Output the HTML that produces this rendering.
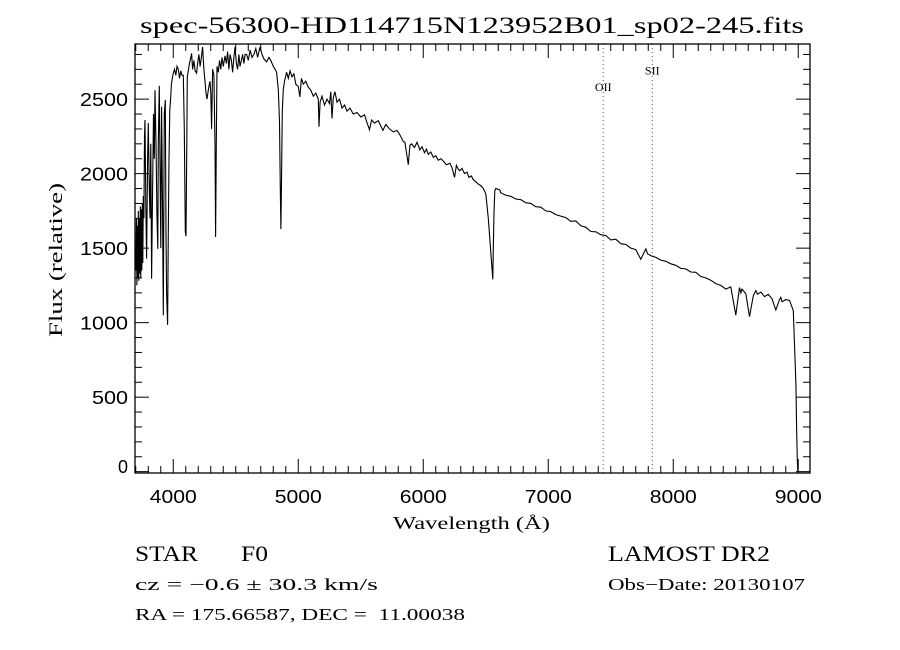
<!DOCTYPE html>
<html><head><meta charset="utf-8"><style>
body{margin:0;background:#fff;}
svg{display:block;}
.t{font-family:"Liberation Serif",serif;fill:#000;}
.s{font-family:"Liberation Sans",sans-serif;fill:#000;}
</style></head><body>
<svg id="chart" width="900" height="650" viewBox="0 0 900 650">
<rect width="900" height="650" fill="#fff"/>
<text class="t" x="472" y="33" font-size="23" text-anchor="middle" textLength="664" lengthAdjust="spacingAndGlyphs">spec-56300-HD114715N123952B01_sp02-245.fits</text>
<g id="ticks"></g>
<g id="lines"></g>
<polyline id="spec" fill="none" stroke="#000" stroke-width="1.1"/>
<rect x="135" y="44" width="675" height="429" fill="none" stroke="#000" stroke-width="1.3"/>
<text class="t" x="393" y="529" font-size="18" textLength="157" lengthAdjust="spacingAndGlyphs">Wavelength (Å)</text>
<text class="t" x="0" y="0" font-size="19" text-anchor="middle" textLength="154" lengthAdjust="spacingAndGlyphs" transform="translate(62,260) rotate(-90)">Flux (relative)</text>
<text class="t" x="135" y="561" font-size="22"><tspan textLength="63" lengthAdjust="spacingAndGlyphs">STAR</tspan><tspan x="241" textLength="27" lengthAdjust="spacingAndGlyphs">F0</tspan></text>
<text class="t" x="608" y="561" font-size="22" textLength="162" lengthAdjust="spacingAndGlyphs">LAMOST DR2</text>
<text class="t" x="135" y="590" font-size="17" textLength="243" lengthAdjust="spacingAndGlyphs">cz = −0.6 ± 30.3 km/s</text>
<text class="t" x="608" y="590" font-size="17" textLength="197" lengthAdjust="spacingAndGlyphs">Obs−Date: 20130107</text>
<text class="t" x="135" y="620" font-size="17" textLength="330" lengthAdjust="spacingAndGlyphs">RA = 175.66587, DEC =&#160;&#160;11.00038</text>
</svg>
<script>
const waves = [3700,3705,3709,3712,3716,3720,3724,3728,3732,3736,3740,3744,3748,3752,3756,3760,3765,3770,3774,3780,3787,3795,3800,3808,3814,3820,3827,3835,3842,3848,3854,3862,3870,3876,3880,3888,3895,3900,3907,3914,3920,3928,3936,3942,3947,3955,3960,3966,3972,3979,3985,3992,4000,4010,4020,4030,4040,4050,4060,4070,4080,4088,4096,4102,4108,4112,4120,4130,4140,4147,4155,4165,4175,4187,4195,4205,4215,4225,4235,4245,4254,4262,4270,4280,4288,4294,4300,4307,4315,4325,4334,4339,4344,4350,4360,4370,4380,4390,4400,4414,4425,4435,4445,4455,4465,4475,4485,4494,4505,4515,4525,4534,4545,4555,4565,4575,4587,4600,4615,4630,4645,4660,4675,4694,4710,4725,4747,4765,4780,4800,4815,4827,4840,4850,4856,4861,4866,4872,4880,4890,4907,4920,4935,4950,4965,4980,5000,5013,5025,5040,5060,5080,5100,5120,5140,5160,5166,5175,5190,5210,5230,5250,5260,5270,5280,5293,5310,5330,5350,5370,5390,5413,5440,5470,5500,5530,5547,5570,5587,5610,5640,5677,5700,5730,5760,5790,5813,5840,5853,5880,5893,5907,5930,5950,5973,5990,6010,6025,6040,6060,6080,6100,6120,6140,6160,6185,6213,6230,6250,6265,6280,6293,6310,6330,6350,6365,6385,6400,6420,6440,6460,6480,6500,6520,6547,6556,6560,6566,6572,6580,6587,6613,6620,6660,6700,6740,6780,6820,6860,6900,6940,6980,7020,7060,7100,7140,7180,7220,7260,7300,7340,7380,7420,7460,7500,7540,7580,7620,7660,7700,7740,7780,7787,7795,7820,7860,7900,7940,7980,8020,8060,8100,8140,8180,8220,8260,8300,8340,8380,8420,8460,8500,8530,8541,8550,8580,8610,8640,8661,8675,8700,8730,8760,8790,8820,8850,8860,8870,8900,8930,8960,8981,8987,8992,8997,9003,9008];
const fluxes = [1350,1700,1250,1650,1300,1750,1280,1700,1330,1780,1300,1760,1350,1800,1400,1850,1700,2250,2360,1800,1430,2100,2340,1900,1700,2200,1295,1900,2400,2100,2560,2200,1700,1495,2200,2590,2000,1500,2450,1800,1050,2400,2495,1600,1200,985,1600,2100,2430,2500,2600,2640,2675,2700,2660,2720,2700,2640,2690,2660,2660,2300,1610,1580,2200,2650,2690,2740,2780,2807,2700,2760,2690,2675,2740,2800,2720,2780,2850,2700,2620,2540,2500,2560,2600,2620,2540,2300,2700,2660,2200,1575,2200,2720,2680,2760,2700,2780,2720,2790,2740,2820,2700,2800,2760,2680,2780,2850,2740,2700,2800,2720,2760,2800,2740,2800,2800,2760,2830,2780,2800,2840,2780,2850,2800,2770,2750,2780,2760,2720,2700,2680,2565,2350,1900,1628,1950,2420,2565,2620,2680,2640,2690,2650,2670,2600,2585,2515,2640,2600,2620,2580,2560,2520,2540,2500,2315,2480,2520,2460,2500,2470,2550,2370,2510,2550,2480,2500,2440,2460,2420,2440,2400,2410,2380,2395,2350,2295,2360,2340,2355,2290,2330,2300,2280,2290,2260,2215,2210,2060,2190,2200,2175,2210,2160,2180,2140,2165,2130,2145,2110,2120,2090,2100,2085,2060,2070,2040,1975,2055,2030,2020,2035,2000,2010,1975,1985,1960,1945,1930,1920,1900,1865,1700,1400,1290,1500,1735,1885,1900,1898,1890,1872,1855,1848,1830,1825,1805,1800,1778,1775,1750,1745,1725,1715,1705,1680,1682,1650,1640,1612,1610,1590,1585,1555,1560,1530,1525,1500,1490,1425,1495,1480,1462,1450,1438,1420,1412,1395,1385,1365,1360,1340,1338,1310,1300,1285,1262,1250,1225,1240,1050,1235,1200,1225,1195,1040,1180,1215,1190,1205,1175,1190,1160,1085,1155,1170,1140,1155,1150,1080,590,300,81,0];
const xTicks = [4000,5000,6000,7000,8000,9000];
const yTicks = [0,500,1000,1500,2000,2500];
const lineNames = ["OII","SII"];
const lineWaves = [7440,7832];
const lineLabelFlux = [2555,2665];

const X0=135, X1=810, Y0=473, Y1=44;
const WMIN=3694, WMAX=9094, FMIN=-9, FMAX=2870;
function xs(w){return X0+(w-WMIN)/(WMAX-WMIN)*(X1-X0);}
function ys(f){return Y0-(f-FMIN)/(FMAX-FMIN)*(Y0-Y1);}
const NS="http://www.w3.org/2000/svg";
function mk(tag,attrs,parent){const e=document.createElementNS(NS,tag);for(const k in attrs)e.setAttribute(k,attrs[k]);parent.appendChild(e);return e;}

const spec=document.getElementById('spec');
spec.setAttribute('points',waves.map((w,i)=>xs(w).toFixed(1)+','+Math.min(Y0,Math.max(Y1,ys(fluxes[i]))).toFixed(1)).join(' '));

const tg=document.getElementById('ticks');
for(let w=3700;w<=9000;w+=100){
  const major=w%1000===0, L=major?14:7, x=xs(w);
  const a=mk('line',{x1:x,x2:x,y1:Y0,y2:Y0-L,stroke:'#000','stroke-width':1},tg);
  
  
  const b=mk('line',{x1:x,x2:x,y1:Y1,y2:Y1+L,stroke:'#000','stroke-width':1},tg);
  
  
}
xTicks.forEach(w=>{
  const t=mk('text',{x:xs(w),y:503,'font-size':18,'text-anchor':'middle',class:'s',textLength:47,lengthAdjust:'spacingAndGlyphs'},tg);
  t.textContent=String(w);
  
  
});
for(let f=0;f<=2800;f+=100){
  const major=f%500===0, L=major?14:7, y=ys(f);
  const a=mk('line',{x1:X0,x2:X0+L,y1:y,y2:y,stroke:'#000','stroke-width':1},tg);
  
  
  const b=mk('line',{x1:X1,x2:X1-L,y1:y,y2:y,stroke:'#000','stroke-width':1},tg);
  
  
}
yTicks.forEach(f=>{
  const s=String(f);
  const attrs={x:128,y:Math.min(ys(f)+7,473),'font-size':18,'text-anchor':'end',class:'s'};
  if(s.length>1){attrs.textLength=12*s.length;attrs.lengthAdjust='spacingAndGlyphs';}
  const t=mk('text',attrs,tg);
  t.textContent=s;
  
  
});
const lg=document.getElementById('lines');
lineNames.forEach((n,i)=>{
  const x=xs(lineWaves[i]);
  const l=mk('line',{x1:x,x2:x,y1:Y1,y2:Y0,stroke:'#8b3a3a','stroke-width':1,'stroke-dasharray':'1,3'},lg);
  
  
  const t=mk('text',{x:x,y:ys(lineLabelFlux[i]),'font-size':12,'text-anchor':'middle',class:'t'},lg);
  t.textContent=n;
  
  
});
</script>
</body></html>
